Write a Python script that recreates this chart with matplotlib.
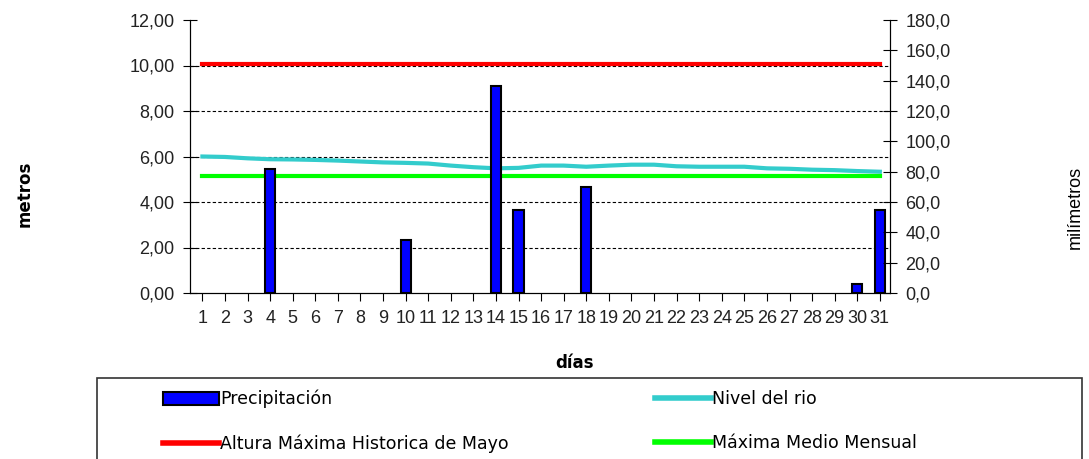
import numpy as np
import matplotlib
matplotlib.use("Agg")
import matplotlib.pyplot as plt
from matplotlib.lines import Line2D
from matplotlib.patches import Patch, Rectangle

dias = np.arange(1, 32)
precipitacion = [0, 0, 0, 82, 0, 0, 0, 0, 0, 35, 0, 0, 0, 136.5, 55, 0, 0, 70,
                 0, 0, 0, 0, 0, 0, 0, 0, 0, 0, 0, 6, 55]  # mm
nivel_rio = [6.00, 5.98, 5.92, 5.88, 5.87, 5.85, 5.82, 5.78, 5.74, 5.72, 5.69,
             5.60, 5.53, 5.48, 5.50, 5.60, 5.60, 5.55, 5.60, 5.64, 5.64, 5.57,
             5.55, 5.55, 5.55, 5.48, 5.46, 5.42, 5.40, 5.36, 5.33]  # m
altura_max_hist = [10.05] * 31
maxima_medio = [5.15] * 31

fig = plt.figure(figsize=(10.89, 4.59), dpi=100)
ax = fig.add_axes([190 / 1089, 1 - 293 / 459, 700 / 1089, 273 / 459])
ax2 = ax.twinx()

ax.plot(dias, altura_max_hist, color='#ff0000', lw=3)
ax.plot(dias, nivel_rio, color='#33cccc', lw=3)
ax.plot(dias, maxima_medio, color='#00ff00', lw=3)

# days without rain get no bar (a zero bar would still show its edge)
prec = np.array(precipitacion, dtype=float)
llueve = prec > 0
ax2.bar(dias[llueve], prec[llueve], width=0.45, color='#0000ff', edgecolor='black', lw=1.5)

ax.set_xlim(0.45, 31.45)
ax.set_ylim(0, 12)
ax2.set_ylim(0, 180)
ax.set_yticks(np.arange(0, 13, 2))
ax.set_yticklabels(['{:.2f}'.format(v).replace('.', ',') for v in np.arange(0, 13, 2)])
ax2.set_yticks(np.arange(0, 181, 20))
ax2.set_yticklabels(['{:.1f}'.format(v).replace('.', ',') for v in np.arange(0, 181, 20)])
ax.set_xticks(dias)
ax.set_xticklabels([str(d) for d in dias])

for a in (ax, ax2):
    a.spines['top'].set_visible(False)
    for lab in a.get_yticklabels() + a.get_xticklabels():
        lab.set_fontfamily('Liberation Sans')
        lab.set_fontsize(13)
        lab.set_color('#222222')
ax.tick_params(axis='y', direction='inout', length=10, pad=6)
ax2.tick_params(axis='y', direction='inout', length=10, pad=6)
ax.tick_params(axis='x', direction='out', length=6, pad=6)

for v in range(2, 12, 2):
    ax.axhline(v, color='black', lw=0.8, ls=(0, (3, 2)), zorder=0)

fig.text(25 / 1089, 1 - 194 / 459, 'metros', rotation=90, ha='center', va='center',
         fontsize=12, fontweight='bold')
fig.text(1075 / 1089, 1 - 207 / 459, 'milímetros', rotation=90, ha='center', va='center',
         fontsize=13, family='Liberation Sans')
fig.text(575 / 1089, 1 - 363 / 459, 'días', ha='center', va='center',
         fontsize=12, fontweight='bold')

fig.add_artist(Rectangle((97 / 1089, -0.05), 985 / 1089, 0.05 + (1 - 378 / 459),
                         transform=fig.transFigure, fill=False, edgecolor='#333333', lw=1.2))

h1 = [Patch(facecolor='#0000ff', edgecolor='black', lw=1.5),
      Line2D([], [], color='#ff0000', lw=4)]
h2 = [Line2D([], [], color='#33cccc', lw=4),
      Line2D([], [], color='#00ff00', lw=4)]
fig.legend(h1, ['Precipitación', 'Altura Máxima Historica de Mayo'],
           loc='upper left', bbox_to_anchor=(163 / 1089, 1 - 390 / 459),
           frameon=False, fontsize=12.5, handlelength=3.2, handleheight=0.8,
           handletextpad=0.1, labelspacing=1.5, borderpad=0, borderaxespad=0)
fig.legend(h2, ['Nivel del rio', 'Máxima Medio Mensual'],
           loc='upper left', bbox_to_anchor=(655 / 1089, 1 - 390 / 459),
           frameon=False, fontsize=12.5, handlelength=3.2, handleheight=0.8,
           handletextpad=0.1, labelspacing=1.5, borderpad=0, borderaxespad=0)

fig.savefig('out.png', dpi=100)
